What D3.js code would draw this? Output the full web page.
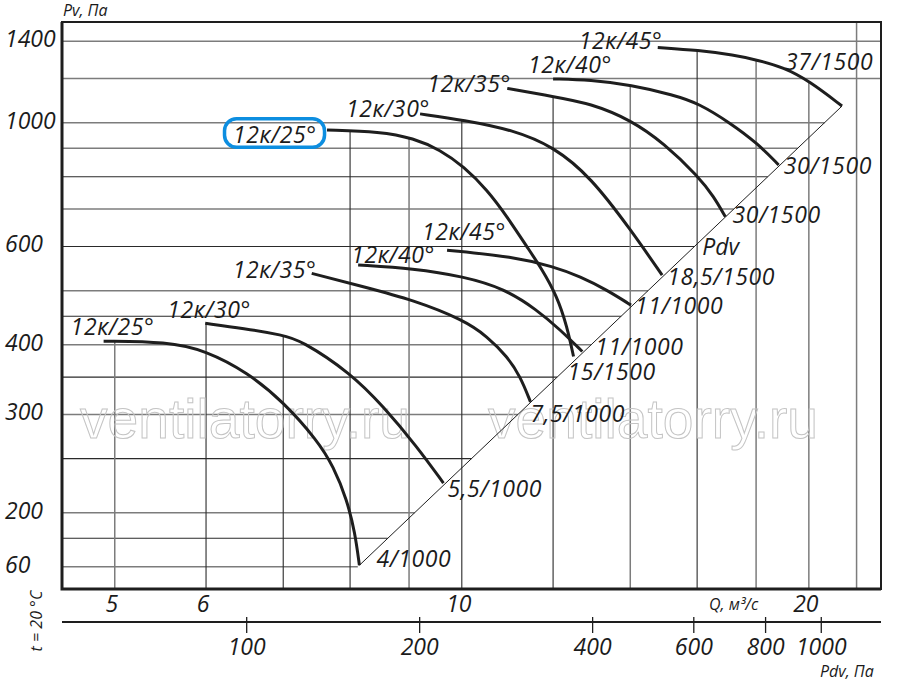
<!DOCTYPE html>
<html>
<head>
<meta charset="utf-8">
<title>12к fan chart</title>
<script src="https://cdn.jsdelivr.net/npm/d3@7"></script>
<style>
  body { margin: 0; background: #fff; }
  svg { display: block; }
  text { font-family: 'Open Sans', 'Liberation Sans', sans-serif; font-style: italic; fill: #1b1b1b; }
</style>
</head>
<body>
<svg id="chart" width="900" height="681"></svg>
<script>
// ---- data (Q in m3/s, Pv in Pa) ----
const qTicks = [5, 6, 10, 20];
const pvTicks = [1400, 1000, 600, 400, 300, 200, 160];
const pvTickLabels = ['1400', '1000', '600', '400', '300', '200', '60'];
const pdvTicks = [100, 200, 400, 600, 800, 1000];
const qGrid = [5, 6, 7, 8, 9, 10, 12, 14, 16, 18, 20, 22];
const pvGrid = [1400, 1200, 1000, 900, 800, 700, 600, 500, 450, 400, 350, 300, 250, 200, 180, 160];

// lower family
const c25a = [[4.89, 406], [5.55, 405], [5.99, 391], [6.53, 356], [7.00, 316], [7.49, 270], [7.74, 242], [7.95, 211], [8.08, 184], [8.15, 161]];
const c30a = [[5.99, 437], [6.47, 428], [7.00, 416], [7.24, 408], [8.01, 356], [8.55, 310], [9.14, 263], [9.64, 226]];
const c35a = [[7.41, 537], [8.22, 508], [9.08, 481], [10.04, 443], [10.52, 414], [10.95, 381], [11.24, 351], [11.47, 316]];
const c40a = [[8.13, 556], [9.08, 548], [10.04, 530], [10.87, 505], [11.62, 462], [12.18, 425], [12.72, 389]];
const c45a = [[9.71, 591], [11.09, 575], [12.01, 552], [12.67, 530], [13.37, 501], [14.02, 471]];
// upper family
const c25b = [[7.64, 970], [8.50, 964], [9.08, 938], [9.58, 894], [10.04, 834], [10.52, 758], [10.95, 678], [11.39, 599], [11.72, 549], [12.10, 488], [12.34, 431], [12.50, 381]];
const c30b = [[9.20, 1037], [10.04, 1011], [11.09, 970], [12.01, 906], [12.93, 800], [14.02, 642], [14.92, 533]];
const c35b = [[10.95, 1152], [12.02, 1113], [12.93, 1083], [14.02, 1011], [14.97, 919], [16.05, 800], [16.54, 737], [16.93, 678]];
const c40b = [[12.00, 1198], [12.93, 1193], [14.02, 1168], [15.27, 1121], [16.05, 1083], [17.10, 998], [18.04, 919], [18.83, 840]];
const c45b = [[14.79, 1364], [16.05, 1348], [17.22, 1322], [18.04, 1295], [19.02, 1256], [20.01, 1188], [21.37, 1071]];

const curves = [c25a, c30a, c35a, c40a, c45a, c25b, c30b, c35b, c40b, c45b];
const angleNames = ['12к/25°', '12к/30°', '12к/35°', '12к/40°', '12к/45°', '12к/25°', '12к/30°', '12к/35°', '12к/40°', '12к/45°'];
const motorNames = ['4/1000', '5,5/1000', '7,5/1000', '11/1000', '11/1000', '15/1500', '18,5/1500', '30/1500', '30/1500', '37/1500'];

// dynamic pressure line Pdv (ends of the diagonal)
const pdvLine = [[8.15, 161], [21.37, 1071]];

(function() {
  'use strict';

  // ---- layout (label offsets from curve start / end, px) ----
  const angleOffsets = [[-33, -6], [-38, -5], [-79, 5], [-7, -2], [-25, -10], [-94, 13], [-74, 3], [-80, 4], [-25, -6], [-79, 2]];
  const motorOffsets = [[17, 2], [4, 14], [0, 20], [13, 3], [4, 9], [-6, 23], [5, 10], [7, 6], [5, 9], [-57, -36]];
  const darkPv = new Set([800, 600, 450, 350, 250, 180]);
  const darkQ = new Set([6, 7, 8, 10, 12, 16]);

  const pLeft = 62, pRight = 881, pTop = 22, pBottom = 589;
  const pdvAxisY = 622;
  const labelSize = '23px';
  const labelSpacing = '0.6px';

  const svg = d3.select('#chart');

  const x = d3.scaleLog().domain([4.5, 23.1]).range([pLeft, pRight]);
  const y = d3.scaleLog().domain([146, 1515]).range([pBottom, pTop]);
  const xPdv = d3.scaleLog().domain([47.8, 1273]).range([pLeft, pRight]);

  const line = d3.line()
    .x(d => x(d[0]))
    .y(d => y(d[1]))
    .curve(d3.curveBasis);

  // diagonal in pixel space
  const dA = [x(pdvLine[0][0]), y(pdvLine[0][1])];
  const dB = [x(pdvLine[1][0]), y(pdvLine[1][1])];
  function diagXAt(py) {
    const t = (py - dA[1]) / (dB[1] - dA[1]);
    return dA[0] + t * (dB[0] - dA[0]);
  }

  const gGrid = svg.append('g');
  const gMarks = svg.append('g');

  const curvePaths = gMarks.selectAll('path.curve')
    .data(curves)
    .enter()
    .append('path')
    .attr('class', 'curve')
    .attr('d', line)
    .attr('fill', 'none')
    .attr('stroke', '#1e1e1e')
    .attr('stroke-width', 3);

  // sample curves to find where each vertical grid line meets the top envelope
  const samples = [];
  curvePaths.each(function() {
    const len = this.getTotalLength();
    const pts = [];
    for (let l = 0; l <= len; l += 0.5) {
      const p = this.getPointAtLength(l);
      pts.push([p.x, p.y]);
    }
    samples.push(pts);
  });

  function envelopeTop(px) {
    let best = pTop;
    let found = false;
    samples.forEach(pts => {
      for (let i = 1; i < pts.length; i++) {
        const a = pts[i - 1], b = pts[i];
        if ((a[0] - px) * (b[0] - px) <= 0 && a[0] !== b[0]) {
          const t = (px - a[0]) / (b[0] - a[0]);
          const py = a[1] + t * (b[1] - a[1]);
          if (!found || py < best) { best = py; found = true; }
        }
      }
    });
    return found ? best : pTop;
  }

  // horizontal grid, cut at the Pdv diagonal
  gGrid.selectAll('line.h')
    .data(pvGrid)
    .enter()
    .append('line')
    .attr('x1', pLeft)
    .attr('x2', d => {
      const py = y(d);
      return py < dB[1] ? pRight : Math.min(pRight, diagXAt(py));
    })
    .attr('y1', d => y(d))
    .attr('y2', d => y(d))
    .attr('stroke', d => darkPv.has(d) ? '#2a2a2a' : '#7c7c7c')
    .attr('stroke-width', d => darkPv.has(d) ? 1.1 : 1.5);

  // vertical grid, starting at the top curve
  gGrid.selectAll('line.v')
    .data(qGrid)
    .enter()
    .append('line')
    .attr('x1', d => x(d))
    .attr('x2', d => x(d))
    .attr('y1', d => envelopeTop(x(d)))
    .attr('y2', pBottom)
    .attr('stroke', d => darkQ.has(d) ? '#2a2a2a' : '#7c7c7c')
    .attr('stroke-width', d => darkQ.has(d) ? 1.1 : 1.5);

  // watermark
  [80, 488].forEach(wx => {
    gGrid.append('text')
      .attr('x', wx)
      .attr('y', 438)
      .attr('textLength', 330)
      .attr('lengthAdjust', 'spacingAndGlyphs')
      .style('font-family', "'Liberation Sans', Arial, sans-serif")
      .style('font-style', 'normal')
      .style('font-size', '56px')
      .style('fill', 'none')
      .style('stroke', '#c4c4c4')
      .style('stroke-width', 1)
      .text('ventilatorry.ru');
  });

  // Pdv diagonal
  gGrid.append('line')
    .attr('x1', dA[0]).attr('y1', dA[1])
    .attr('x2', dB[0]).attr('y2', dB[1])
    .attr('stroke', '#1e1e1e')
    .attr('stroke-width', 1);

  // frame
  svg.append('rect')
    .attr('x', pLeft).attr('y', pTop)
    .attr('width', pRight - pLeft).attr('height', pBottom - pTop)
    .attr('fill', 'none')
    .attr('stroke', '#1e1e1e')
    .attr('stroke-width', 2);
  svg.append('path')
    .attr('d', `M${pLeft},${pTop} V${pBottom} H${pRight}`)
    .attr('fill', 'none')
    .attr('stroke', '#1e1e1e')
    .attr('stroke-width', 3);

  gMarks.raise();

  // y tick labels (left aligned)
  svg.append('g')
    .selectAll('text')
    .data(pvTicks)
    .enter()
    .append('text')
    .attr('x', 5)
    .attr('y', d => y(d) + 6)
    .style('font-size', '23px')
    .text((d, i) => pvTickLabels[i]);

  // Q axis labels
  svg.append('g')
    .selectAll('text')
    .data(qTicks)
    .enter()
    .append('text')
    .attr('x', d => x(d) - 3)
    .attr('y', 612)
    .attr('text-anchor', 'middle')
    .style('font-size', '23px')
    .text(d => d);

  // Pdv axis
  const pdvAxis = svg.append('g')
    .attr('transform', `translate(0,${pdvAxisY})`)
    .call(d3.axisBottom(xPdv).tickValues(pdvTicks).tickSize(11).tickSizeOuter(0).tickFormat(d3.format('d')));
  pdvAxis.select('.domain')
    .attr('d', `M${pLeft},0H${pRight}`)
    .attr('stroke', '#1e1e1e')
    .attr('stroke-width', 2);
  pdvAxis.selectAll('.tick line')
    .attr('y1', -5)
    .attr('stroke', '#1e1e1e')
    .attr('stroke-width', 1.3);
  pdvAxis.selectAll('.tick text')
    .attr('y', 33)
    .attr('dy', 0)
    .attr('fill', '#1b1b1b')
    .style('font-family', "'Open Sans', sans-serif")
    .style('font-style', 'italic')
    .style('font-size', '23px');

  // axis titles
  svg.append('text').attr('x', 63).attr('y', 16).style('font-size', '16px').text('Pv, Па');
  svg.append('text').attr('x', 709).attr('y', 610).style('font-size', '16px').text('Q, м³/с');
  svg.append('text').attr('x', 820).attr('y', 677).style('font-size', '16px').text('Pdv, Па');
  svg.append('text')
    .attr('transform', 'translate(42,621) rotate(-90)')
    .attr('text-anchor', 'middle')
    .style('font-size', '16px')
    .text('t = 20 °C');

  // curve labels
  const gLabels = svg.append('g');
  curves.forEach((c, i) => {
    const s = c[0], e = c[c.length - 1];
    gLabels.append('text')
      .attr('x', x(s[0]) + angleOffsets[i][0])
      .attr('y', y(s[1]) + angleOffsets[i][1])
      .style('font-size', labelSize)
      .style('letter-spacing', labelSpacing)
      .text(angleNames[i]);
    gLabels.append('text')
      .attr('x', x(e[0]) + motorOffsets[i][0])
      .attr('y', y(e[1]) + motorOffsets[i][1])
      .style('font-size', labelSize)
      .style('letter-spacing', labelSpacing)
      .text(motorNames[i]);
  });

  // Pdv label on the diagonal
  const pdvT = 0.675;
  gLabels.append('text')
    .attr('x', dA[0] + pdvT * (dB[0] - dA[0]) + 17)
    .attr('y', dA[1] + pdvT * (dB[1] - dA[1]))
    .style('font-size', labelSize)
    .text('Pdv');

  // blue highlight around the upper 12к/25°
  const hl = [x(c25b[0][0]) + angleOffsets[5][0], y(c25b[0][1]) + angleOffsets[5][1]];
  svg.append('rect')
    .attr('x', hl[0] - 8.5)
    .attr('y', hl[1] - 24.3)
    .attr('width', 100)
    .attr('height', 28.5)
    .attr('rx', 12)
    .attr('fill', 'none')
    .attr('stroke', '#0d8ee0')
    .attr('stroke-width', 3.5);
})();
</script>
</body>
</html>
